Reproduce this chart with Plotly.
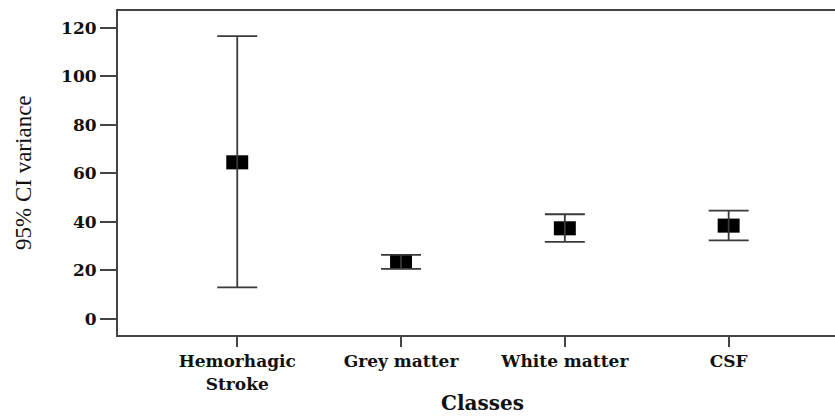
import plotly.graph_objects as go

categories = ["Hemorhagic<br>Stroke", "Grey matter", "White matter", "CSF"]
means = [64.6, 23.5, 37.4, 38.5]
upper = [116.6, 26.4, 43.2, 44.7]
lower = [13.0, 20.7, 31.8, 32.4]
y_ticks = [0, 20, 40, 60, 80, 100, 120]

xpos = list(range(len(categories)))
box_h = 5.8  # marker box height in data units
err_plus = [u - m for u, m in zip(upper, means)]
err_minus = [m - l for m, l in zip(means, lower)]

fig = go.Figure()
fig.add_trace(go.Scatter(
    x=xpos, y=means, mode="markers",
    marker=dict(size=1, opacity=0),
    error_y=dict(type="data", symmetric=False, array=err_plus, arrayminus=err_minus,
                 color="#3a3a3a", thickness=1.8, width=20),
    showlegend=False, hoverinfo="skip"))
fig.add_trace(go.Bar(
    x=xpos, y=[box_h] * len(means), base=[m - box_h / 2 for m in means],
    width=0.134, marker=dict(color="black", line=dict(width=0)),
    showlegend=False))

serif = "Liberation Serif"
bold_serif = "DejaVu Serif"
W = 845
plot_w = W - 118
x0 = -0.728
x1 = x0 + plot_w / 163.8
fig.update_layout(
    width=W, height=416,
    margin=dict(l=118, r=0, t=11, b=81),
    paper_bgcolor="white", plot_bgcolor="white",
    xaxis=dict(range=[x0, x1], tickmode="array", tickvals=xpos, ticktext=categories,
               showline=True, linecolor="#444", linewidth=2, mirror=True,
               ticks="outside", ticklen=10, tickwidth=2, tickcolor="#444",
               showgrid=False, zeroline=False,
               tickfont=dict(family=bold_serif, size=17, color="#111", weight="bold")),
    yaxis=dict(range=[-6.6, 127.0], tickmode="array", tickvals=y_ticks,
               showline=True, linecolor="#444", linewidth=2, mirror=False,
               ticks="outside", ticklen=16, tickwidth=2, tickcolor="#444",
               showgrid=False, zeroline=False,
               tickfont=dict(family=bold_serif, size=17, color="#111", weight="bold")),
    annotations=[
        dict(text="Classes", xref="x", yref="paper", x=1.5, y=(335 - 403) / 324,
             xanchor="center", yanchor="middle", showarrow=False,
             font=dict(family=bold_serif, size=20, color="#111", weight="bold")),
        dict(text="95% CI variance", xref="paper", yref="paper", x=(23 - 118) / plot_w,
             y=(335 - 173) / 324, textangle=-90, xanchor="center", yanchor="middle",
             showarrow=False, font=dict(family=serif, size=23, color="#111")),
    ],
)
fig.write_html("out.html", config={"displayModeBar": False},
               post_script="document.body.style.margin='0';document.body.style.overflow='hidden';")
